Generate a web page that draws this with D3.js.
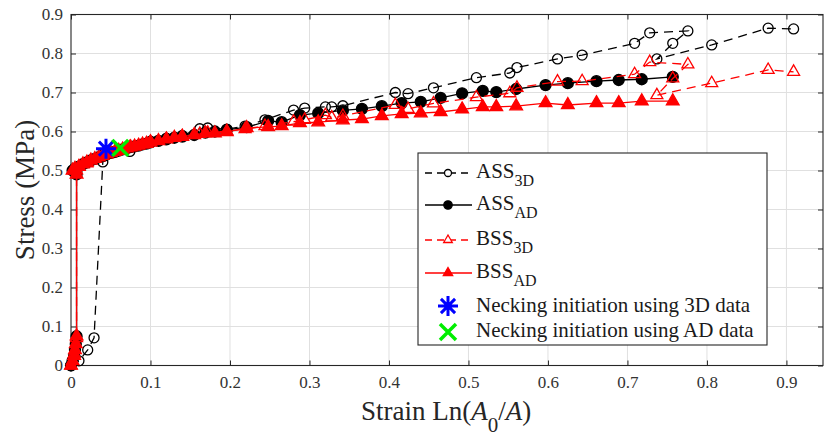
<!DOCTYPE html>
<html>
<head>
<meta charset="utf-8">
<script src="https://cdn.jsdelivr.net/npm/d3@7"></script>
<style>
  body { margin: 0; background: #fff; }
  svg { display: block; }
</style>
</head>
<body>
<svg id="chart" width="824" height="437"></svg>
<script>
// Axis ticks
const xTicks = [0, 0.1, 0.2, 0.3, 0.4, 0.5, 0.6, 0.7, 0.8, 0.9];
const yTicks = [0, 0.1, 0.2, 0.3, 0.4, 0.5, 0.6, 0.7, 0.8, 0.9];

// ASS, 3D measurement (strain, stress in MPa)
const ass3dStrain = [0, 0.01, 0.021, 0.029, 0.04, 0.074, 0.1, 0.12, 0.14, 0.162, 0.172, 0.196, 0.219, 0.244,
  0.28, 0.294, 0.32, 0.328, 0.342, 0.408, 0.424, 0.456, 0.51, 0.552, 0.561, 0.612, 0.643, 0.709, 0.728,
  0.776, 0.757, 0.737, 0.806, 0.877, 0.909];
const ass3dStress = [0, 0.012, 0.04, 0.071, 0.522, 0.549, 0.575, 0.583, 0.59, 0.607, 0.609, 0.606, 0.614, 0.63,
  0.655, 0.66, 0.663, 0.663, 0.666, 0.7, 0.697, 0.712, 0.738, 0.75, 0.764, 0.786, 0.796, 0.826, 0.853,
  0.858, 0.826, 0.786, 0.822, 0.865, 0.863];

// BSS, 3D measurement
const bss3dStrain = [0, 0.004, 0.007, 0.007, 0.02, 0.04, 0.074, 0.1, 0.12, 0.14, 0.162, 0.172, 0.196, 0.219,
  0.244, 0.28, 0.294, 0.32, 0.328, 0.342, 0.408, 0.424, 0.456, 0.51, 0.552, 0.561, 0.612, 0.643, 0.709,
  0.728, 0.776, 0.757, 0.737, 0.806, 0.877, 0.909];
const bss3dStress = [0, 0.03, 0.07, 0.5, 0.518, 0.538, 0.56, 0.574, 0.581, 0.588, 0.594, 0.597, 0.601, 0.606,
  0.614, 0.625, 0.63, 0.642, 0.636, 0.64, 0.668, 0.658, 0.672, 0.688, 0.698, 0.712, 0.728, 0.729, 0.747,
  0.778, 0.772, 0.736, 0.693, 0.724, 0.758, 0.753];

// AD measurement strains (shared by ASS and BSS)
const adStrain = [0, 0.002, 0.004, 0.005, 0.006, 0.007, 0.007, 0.002, 0.005, 0.01,
  0.015, 0.02, 0.025, 0.03, 0.035, 0.04, 0.045, 0.05, 0.055, 0.06,
  0.065, 0.07, 0.075, 0.08, 0.085, 0.09, 0.095, 0.1, 0.11, 0.12,
  0.13, 0.14, 0.155, 0.169, 0.181, 0.196, 0.221, 0.248, 0.265, 0.288,
  0.311, 0.342, 0.366, 0.391, 0.416, 0.44, 0.465, 0.492, 0.518, 0.535,
  0.56, 0.597, 0.625, 0.661, 0.689, 0.718, 0.757];
const assAdStress = [0, 0.012, 0.025, 0.04, 0.055, 0.075, 0.49, 0.5, 0.505, 0.51,
  0.516, 0.521, 0.526, 0.53, 0.534, 0.538, 0.542, 0.545, 0.548, 0.551,
  0.554, 0.557, 0.56, 0.562, 0.564, 0.567, 0.569, 0.572, 0.576, 0.58,
  0.584, 0.587, 0.591, 0.597, 0.6, 0.604, 0.611, 0.627, 0.624, 0.642,
  0.647, 0.654, 0.658, 0.665, 0.673, 0.676, 0.686, 0.698, 0.704, 0.701,
  0.709, 0.719, 0.724, 0.729, 0.732, 0.734, 0.74];
const bssAdStress = [0, 0.012, 0.025, 0.04, 0.055, 0.075, 0.49, 0.5, 0.505, 0.51,
  0.516, 0.521, 0.526, 0.53, 0.534, 0.538, 0.542, 0.545, 0.548, 0.551,
  0.554, 0.557, 0.56, 0.562, 0.564, 0.567, 0.569, 0.572, 0.576, 0.58,
  0.584, 0.587, 0.591, 0.596, 0.596, 0.599, 0.609, 0.612, 0.614, 0.622,
  0.624, 0.629, 0.632, 0.64, 0.645, 0.647, 0.65, 0.657, 0.663, 0.663,
  0.665, 0.673, 0.668, 0.673, 0.673, 0.678, 0.678];

// Necking initiation points [strain, stress]
const necking3D = [0.044, 0.556];
const neckingAD = [0.062, 0.558];

const FONT = "Liberation Serif, Tinos, Times New Roman, DejaVu Serif, serif";

const svg = d3.select("#chart").attr("font-family", FONT);
const plotL = 71, plotR = 823, plotT = 14.5, plotB = 365.5;

const x = d3.scaleLinear().domain([0, 0.946]).range([plotL, plotR]);
const y = d3.scaleLinear().domain([0, 0.9]).range([plotB, plotT]);

// grid
const grid = svg.append("g").attr("stroke", "#e0e0e0").attr("stroke-width", 1);
grid.selectAll("line.gx").data(xTicks.filter(d => d > 0)).join("line")
  .attr("x1", d => x(d)).attr("x2", d => x(d)).attr("y1", plotT).attr("y2", plotB);
grid.selectAll("line.gy").data(yTicks.filter(d => d > 0)).join("line")
  .attr("x1", plotL).attr("x2", plotR).attr("y1", d => y(d)).attr("y2", d => y(d));

const fmt = d => d === 0 ? "0" : d3.format(".1f")(d);

function styleAxis(g) {
  g.attr("font-family", FONT).attr("font-size", 17);
  g.select(".domain").remove();
  g.selectAll(".tick line").attr("stroke", "#262626");
  g.selectAll("text").attr("font-family", FONT).attr("fill", "#333");
}

svg.append("g").attr("transform", `translate(0,${plotB})`)
  .call(d3.axisBottom(x).tickValues(xTicks).tickFormat(fmt).tickSize(-5).tickSizeOuter(0).tickPadding(10))
  .call(styleAxis);
svg.append("g").attr("transform", `translate(0,${plotT})`)
  .call(d3.axisTop(x).tickValues(xTicks).tickFormat("").tickSize(-5).tickSizeOuter(0))
  .call(styleAxis);
svg.append("g").attr("transform", `translate(${plotL},0)`)
  .call(d3.axisLeft(y).tickValues(yTicks).tickFormat(fmt).tickSize(-5).tickSizeOuter(0).tickPadding(8))
  .call(styleAxis);
svg.append("g").attr("transform", `translate(${plotR},0)`)
  .call(d3.axisRight(y).tickValues(yTicks).tickFormat("").tickSize(-5).tickSizeOuter(0))
  .call(styleAxis);

svg.append("rect").attr("x", plotL).attr("y", plotT).attr("width", plotR - plotL).attr("height", plotB - plotT)
  .attr("fill", "none").attr("stroke", "#262626").attr("stroke-width", 1.1);

const zip = (a, b) => a.map((v, i) => [v, b[i]]);
const line = d3.line().x(d => x(d[0])).y(d => y(d[1]));

const circleSym = d3.symbol().type(d3.symbolCircle);
const triSym = d3.symbol().type(d3.symbolTriangle);

const series = [
  { pts: zip(ass3dStrain, ass3dStress), color: "#000", dash: "9,6", sym: circleSym.size(Math.PI * 5 * 5)(), fill: "none", width: 1.3 },
  { pts: zip(adStrain, assAdStress), color: "#000", dash: null, sym: circleSym.size(Math.PI * 5.5 * 5.5)(), fill: "#000", width: 1.3 },
  { pts: zip(bss3dStrain, bss3dStress), color: "#ff0000", dash: "9,6", sym: triSym.size(62)(), fill: "none", width: 1.3 },
  { pts: zip(adStrain, bssAdStress), color: "#ff0000", dash: null, sym: triSym.size(70)(), fill: "#ff0000", width: 1.3 }
];

const plot = svg.append("g");
series.forEach(s => {
  plot.append("path").datum(s.pts).attr("d", line)
    .attr("fill", "none").attr("stroke", s.color).attr("stroke-width", s.width)
    .attr("stroke-dasharray", s.dash);
  plot.append("g").selectAll("path").data(s.pts).join("path")
    .attr("transform", d => `translate(${x(d[0])},${y(d[1])})`)
    .attr("d", s.sym)
    .attr("fill", s.fill).attr("stroke", s.color).attr("stroke-width", 1.3);
});

// asterisk (8 arms) and cross markers
const asterisk = r => { const k = r * 0.7071;
  return `M${-r},0L${r},0M0,${-r}L0,${r}M${-k},${-k}L${k},${k}M${-k},${k}L${k},${-k}`; };
const cross = r => `M${-r},${-r}L${r},${r}M${-r},${r}L${r},${-r}`;

plot.append("path").attr("transform", `translate(${x(necking3D[0])},${y(necking3D[1])})`)
  .attr("d", asterisk(10)).attr("stroke", "#0000ff").attr("stroke-width", 3).attr("fill", "none");
plot.append("path").attr("transform", `translate(${x(neckingAD[0])},${y(neckingAD[1])})`)
  .attr("d", cross(8)).attr("stroke", "#00ee00").attr("stroke-width", 3.5).attr("fill", "none");

// axis titles
svg.append("text").attr("x", (plotL + plotR) / 2 - 86).attr("y", 420).attr("font-size", 27).attr("fill", "#262626")
  .call(t => {
    t.append("tspan").text("Strain Ln(");
    t.append("tspan").attr("font-style", "italic").text("A");
    t.append("tspan").attr("font-size", 21).attr("dy", 12).text("0");
    t.append("tspan").attr("dy", -12).text("/");
    t.append("tspan").attr("font-style", "italic").text("A");
    t.append("tspan").text(")");
  });
svg.append("text").attr("transform", `translate(34,${(plotT + plotB) / 2}) rotate(-90)`)
  .attr("text-anchor", "middle").attr("font-size", 27).attr("fill", "#262626").text("Stress (MPa)");

// legend
const lg = svg.append("g");
lg.append("rect").attr("x", 418).attr("y", 153).attr("width", 349).attr("height", 192)
  .attr("fill", "#fff").attr("stroke", "#262626").attr("stroke-width", 1.1);

const legendItems = [
  { main: "ASS", sub: "3D", base: 178, s: series[0], sym: d3.symbol().type(d3.symbolCircle).size(Math.PI * 3.5 * 3.5)() },
  { main: "ASS", sub: "AD", base: 210, s: series[1], sym: d3.symbol().type(d3.symbolCircle).size(Math.PI * 4.2 * 4.2)() },
  { main: "BSS", sub: "3D", base: 245, s: series[2], sym: d3.symbol().type(d3.symbolTriangle).size(32)() },
  { main: "BSS", sub: "AD", base: 278, s: series[3], sym: d3.symbol().type(d3.symbolTriangle).size(38)() }
];
legendItems.forEach(it => {
  const ly = it.base - 5;
  lg.append("line").attr("x1", 425).attr("x2", 472).attr("y1", ly).attr("y2", ly)
    .attr("stroke", it.s.color).attr("stroke-width", 1.3).attr("stroke-dasharray", it.s.dash ? "7,5" : null);
  lg.append("path").attr("transform", `translate(448,${ly})`).attr("d", it.sym)
    .attr("fill", it.s.fill === "none" ? "#fff" : it.s.fill).attr("stroke", it.s.color).attr("stroke-width", 1.3);
  const t = lg.append("text").attr("x", 476).attr("y", it.base).attr("font-size", 21).attr("fill", "#1a1a1a");
  t.append("tspan").text(it.main);
  t.append("tspan").attr("font-size", 16).attr("dy", 8).text(it.sub);
});

lg.append("path").attr("transform", "translate(448,306)").attr("d", asterisk(10))
  .attr("stroke", "#0000ff").attr("stroke-width", 3).attr("fill", "none");
lg.append("text").attr("x", 476).attr("y", 312).attr("font-size", 21).attr("fill", "#1a1a1a")
  .text("Necking initiation using 3D data");
lg.append("path").attr("transform", "translate(448,332)").attr("d", cross(8))
  .attr("stroke", "#00ee00").attr("stroke-width", 3.5).attr("fill", "none");
lg.append("text").attr("x", 476).attr("y", 337).attr("font-size", 21).attr("fill", "#1a1a1a")
  .text("Necking initiation using AD data");
</script>
</body>
</html>
